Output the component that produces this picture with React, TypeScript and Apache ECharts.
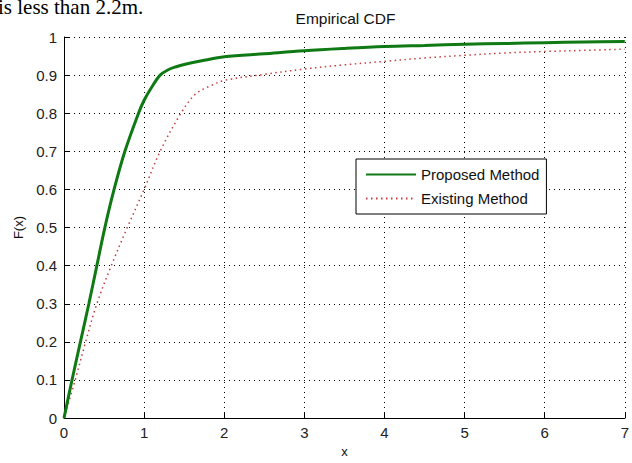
import React, { useEffect, useRef } from "react";
import * as echarts from "echarts";

const xTicks = [0, 1, 2, 3, 4, 5, 6, 7];
const yTicks = [0, 0.1, 0.2, 0.3, 0.4, 0.5, 0.6, 0.7, 0.8, 0.9, 1];

const proposedX = [0, 0.1, 0.205, 0.31, 0.41, 0.51, 0.625, 0.76, 0.93, 1.0, 1.1, 1.2, 1.3, 1.4, 1.5, 1.75, 2, 2.5, 3, 3.5, 4, 4.5, 5, 5.5, 6, 6.5, 7];
const proposedY = [0, 0.1, 0.2, 0.3, 0.4, 0.5, 0.6, 0.7, 0.8, 0.834, 0.87, 0.9, 0.914, 0.922, 0.928, 0.939, 0.948, 0.956, 0.964, 0.97, 0.975, 0.978, 0.981, 0.983, 0.985, 0.987, 0.988];

const existingX = [0, 0.14, 0.27, 0.41, 0.59, 0.79, 1.0, 1.2, 1.46, 1.64, 1.83, 2, 2.5, 3, 3.5, 4, 4.5, 5, 5.5, 6, 6.5, 7];
const existingY = [0, 0.1, 0.2, 0.3, 0.4, 0.5, 0.6, 0.7, 0.8, 0.85, 0.872, 0.886, 0.902, 0.916, 0.927, 0.936, 0.945, 0.952, 0.958, 0.962, 0.965, 0.968];

const seriesNames = ["Proposed Method", "Existing Method"];
const titleText = "Empirical CDF";
const topText = "is less than 2.2m.";

const FONT = "'Liberation Sans', Arial, sans-serif";

export default function App() {
  const ref = useRef<HTMLDivElement>(null);
  useEffect(() => {
    document.body.style.margin = "0";
    if (!ref.current) return;
    const chart = echarts.init(ref.current, undefined, { renderer: "svg" });
    const zip = (xs: number[], ys: number[]) => xs.map((x, i) => [x, ys[i]]);
    chart.setOption({
      animation: false,
      backgroundColor: "#ffffff",
      grid: { left: 64, right: 5, top: 37, bottom: 39 },
      graphic: [
        {
          type: "text",
          left: -2,
          top: -4,
          style: { text: topText, fontFamily: "'Liberation Serif', 'Times New Roman', serif", fontSize: 21, fill: "#000" },
        },
        {
          type: "text",
          x: 345.5,
          y: 10,
          style: { text: titleText, fontFamily: FONT, fontSize: 15.5, fill: "#111", textAlign: "center", textVerticalAlign: "top" },
        },
      ],
      legend: {
        orient: "vertical",
        left: 356,
        top: 159,
        padding: [8, 7, 8, 9],
        itemWidth: 50,
        itemHeight: 14,
        itemGap: 9,
        backgroundColor: "#fff",
        borderColor: "#000",
        borderWidth: 1,
        borderRadius: 0,
        itemStyle: { opacity: 0 },
        textStyle: { fontFamily: FONT, fontSize: 15, color: "#111" },
        data: seriesNames,
      },
      xAxis: {
        type: "value",
        min: xTicks[0],
        max: xTicks[xTicks.length - 1],
        interval: 1,
        name: "x",
        nameLocation: "middle",
        nameGap: 23,
        nameTextStyle: { fontFamily: FONT, fontSize: 13, color: "#111" },
        axisLine: { show: true, lineStyle: { color: "#000", width: 1 } },
        axisTick: { show: true, inside: true, length: 5, lineStyle: { color: "#000" } },
        axisLabel: { margin: 7, fontFamily: FONT, fontSize: 15, color: "#222" },
        splitLine: { show: true, lineStyle: { color: "#000", width: 1, type: [1, 4] } },
      },
      yAxis: {
        type: "value",
        min: yTicks[0],
        max: yTicks[yTicks.length - 1],
        interval: 0.1,
        name: "F(x)",
        nameLocation: "middle",
        nameGap: 21,
        nameTextStyle: { fontFamily: FONT, fontSize: 13, color: "#111" },
        axisLine: { show: true, lineStyle: { color: "#000", width: 1 } },
        axisTick: { show: true, inside: true, length: 5, lineStyle: { color: "#000" } },
        axisLabel: {
          margin: 7,
          fontFamily: FONT,
          fontSize: 15,
          color: "#222",
          formatter: (v: number) => String(Math.round(v * 10) / 10),
        },
        splitLine: { show: true, lineStyle: { color: "#000", width: 1, type: [1, 4] } },
      },
      series: [
        {
          name: seriesNames[0],
          type: "line",
          symbol: "none",
          smooth: 0.35,
          data: zip(proposedX, proposedY),
          lineStyle: { color: "#0f7a14", width: 3 },
          itemStyle: { color: "#0f7a14" },
          z: 3,
        },
        {
          name: seriesNames[1],
          type: "line",
          symbol: "none",
          smooth: 0.35,
          data: zip(existingX, existingY),
          lineStyle: { color: "#c83c3c", width: 1.5, type: [1.5, 3.5] },
          itemStyle: { color: "#c83c3c" },
          z: 2,
        },
      ],
    });
    return () => chart.dispose();
  }, []);
  return <div ref={ref} style={{ width: 632, height: 463, position: "absolute", left: 0, top: 0 }} />;
}
